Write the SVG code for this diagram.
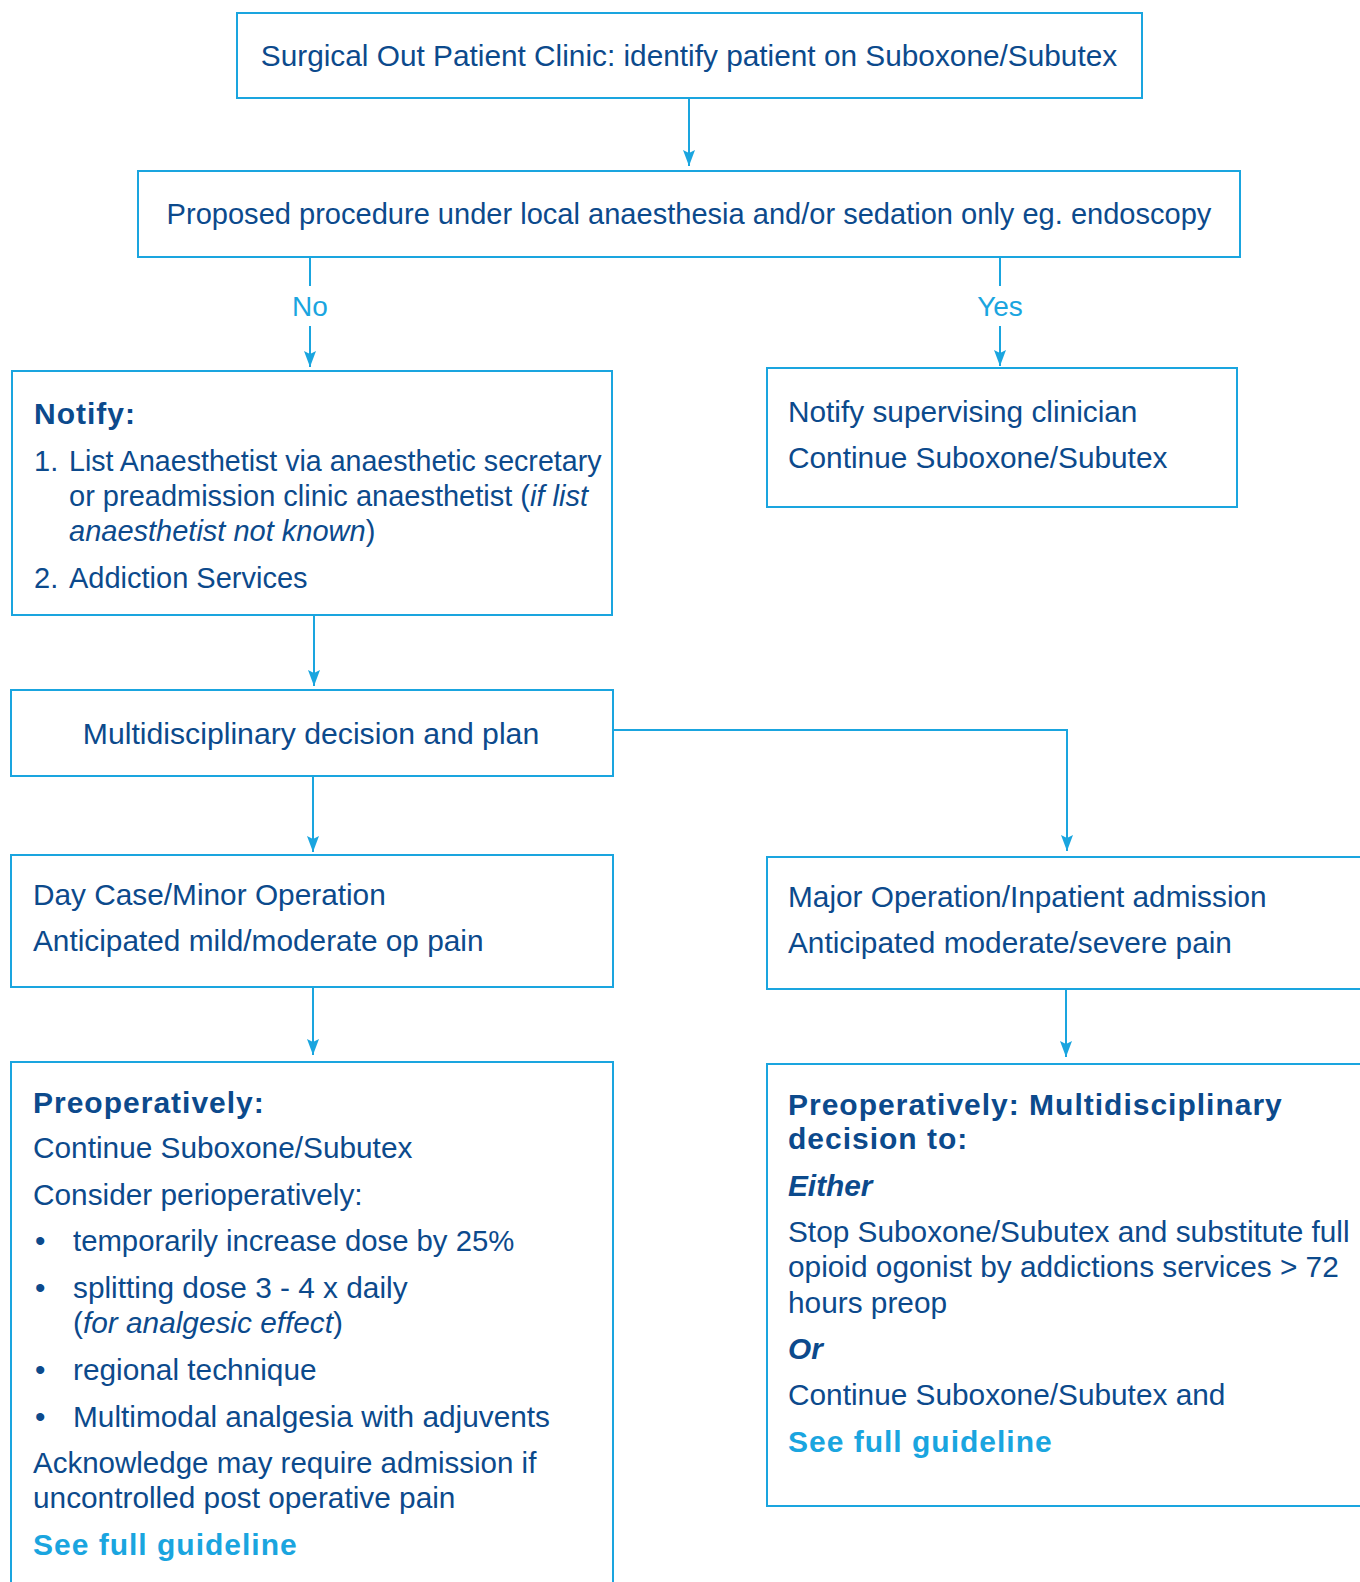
<svg xmlns="http://www.w3.org/2000/svg" width="1360" height="1582" viewBox="0 0 1360 1582">
<style>
.box{fill:#fff;stroke:#1aa5df;stroke-width:2}
.ln{fill:none;stroke:#1aa5df;stroke-width:2}
text{font-family:"Liberation Sans",Arial,sans-serif;font-size:29.8px;fill:#0c4a8c}
.b{font-weight:bold;font-size:30px;letter-spacing:1px}
.i{font-style:italic}
.lb{fill:#1aa5df}
.c{text-anchor:middle}
.s{font-size:29px}
</style>
<defs>
<marker id="arr" markerUnits="userSpaceOnUse" markerWidth="12" markerHeight="18" refX="6" refY="16" orient="0" viewBox="0 0 12 18">
<path d="M0,0 L6,3 L12,0 L6,16 Z" fill="#1aa5df"/>
</marker>
</defs>
<rect width="1360" height="1582" fill="#fff"/>
<g id="connectors">
<line class="ln" x1="689" y1="98" x2="689" y2="166" marker-end="url(#arr)"/>
<line class="ln" x1="310" y1="257" x2="310" y2="286"/>
<line class="ln" x1="310" y1="326" x2="310" y2="367" marker-end="url(#arr)"/>
<line class="ln" x1="1000" y1="257" x2="1000" y2="286"/>
<line class="ln" x1="1000" y1="326" x2="1000" y2="366" marker-end="url(#arr)"/>
<line class="ln" x1="314" y1="615" x2="314" y2="686" marker-end="url(#arr)"/>
<polyline class="ln" points="613,730 1067,730 1067,851" marker-end="url(#arr)"/>
<line class="ln" x1="313" y1="776" x2="313" y2="852" marker-end="url(#arr)"/>
<line class="ln" x1="313" y1="987" x2="313" y2="1055" marker-end="url(#arr)"/>
<line class="ln" x1="1066" y1="989" x2="1066" y2="1057" marker-end="url(#arr)"/>
<text class="lb c" x="310" y="316" style="font-size:28px">No</text>
<text class="lb c" x="1000" y="316" style="font-size:28px">Yes</text>
</g>
<g id="n1">
<rect class="box" x="237" y="13" width="905" height="85"/>
<text class="c" x="689" y="66">Surgical Out Patient Clinic: identify patient on Suboxone/Subutex</text>
</g>
<g id="n2">
<rect class="box" x="138" y="171" width="1102" height="86"/>
<text class="c" x="689" y="224" style="font-size:29.05px">Proposed procedure under local anaesthesia and/or sedation only eg. endoscopy</text>
</g>
<g id="n3">
<rect class="box" x="12" y="371" width="600" height="244"/>
<text class="b" x="34" y="424">Notify:</text>
<text class="s" x="34" y="471">1.</text>
<text x="69" y="471" style="font-size:28.6px">List Anaesthetist via anaesthetic secretary</text>
<text class="s" x="69" y="506">or preadmission clinic anaesthetist (<tspan class="i">if list</tspan></text>
<text class="s" x="69" y="541"><tspan class="i">anaesthetist not known</tspan>)</text>
<text class="s" x="34" y="588">2.</text>
<text class="s" x="69" y="588">Addiction Services</text>
</g>
<g id="n4">
<rect class="box" x="767" y="368" width="470" height="139"/>
<text x="788" y="422">Notify supervising clinician</text>
<text x="788" y="468">Continue Suboxone/Subutex</text>
</g>
<g id="n5">
<rect class="box" x="11" y="690" width="602" height="86"/>
<text class="c" x="311" y="744" style="font-size:30.2px">Multidisciplinary decision and plan</text>
</g>
<g id="n6">
<rect class="box" x="11" y="855" width="602" height="132"/>
<text x="33" y="905">Day Case/Minor Operation</text>
<text x="33" y="951">Anticipated mild/moderate op pain</text>
</g>
<g id="n7">
<rect class="box" x="767" y="857" width="620" height="132"/>
<text x="788" y="907">Major Operation/Inpatient admission</text>
<text x="788" y="953">Anticipated moderate/severe pain</text>
</g>
<g id="n8">
<rect class="box" x="11" y="1062" width="602" height="540"/>
<text class="b" x="33" y="1113">Preoperatively:</text>
<text x="33" y="1158">Continue Suboxone/Subutex</text>
<text x="33" y="1205">Consider perioperatively:</text>
<text x="35" y="1251">•</text>
<text x="73" y="1251" style="font-size:29.3px">temporarily increase dose by 25%</text>
<text x="35" y="1298">•</text>
<text x="73" y="1298">splitting dose 3 - 4 x daily</text>
<text x="73" y="1333">(<tspan class="i">for analgesic effect</tspan>)</text>
<text x="35" y="1380">•</text>
<text x="73" y="1380">regional technique</text>
<text x="35" y="1427">•</text>
<text x="73" y="1427">Multimodal analgesia with adjuvents</text>
<text x="33" y="1473" style="font-size:29.5px">Acknowledge may require admission if</text>
<text x="33" y="1508">uncontrolled post operative pain</text>
<text class="b lb" x="33" y="1555">See full guideline</text>
</g>
<g id="n9">
<rect class="box" x="767" y="1064" width="620" height="442"/>
<text class="b" x="788" y="1115">Preoperatively: Multidisciplinary</text>
<text class="b" x="788" y="1149">decision to:</text>
<text class="i" x="788" y="1196" style="font-weight:600">Either</text>
<text x="788" y="1242">Stop Suboxone/Subutex and substitute full</text>
<text x="788" y="1277">opioid ogonist by addictions services &gt; 72</text>
<text x="788" y="1313">hours preop</text>
<text class="i" x="788" y="1359" style="font-weight:600">Or</text>
<text x="788" y="1405">Continue Suboxone/Subutex and</text>
<text class="b lb" x="788" y="1452">See full guideline</text>
</g>
</svg>
